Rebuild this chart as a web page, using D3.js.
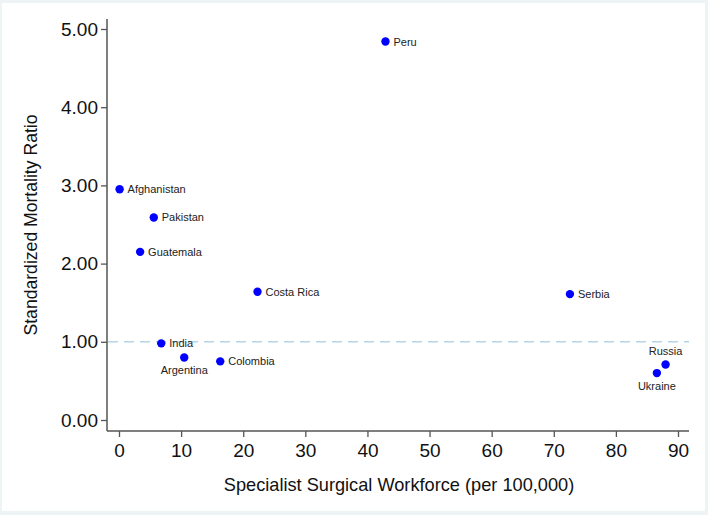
<!DOCTYPE html>
<html><head><meta charset="utf-8">
<script src="https://cdn.jsdelivr.net/npm/d3@7"></script>
<style>html,body{margin:0;padding:0;background:#eef4f6;}svg{display:block;}</style>
</head><body><svg id="c" width="708" height="515"></svg>
<script>
const countries = ["Peru","Afghanistan","Pakistan","Guatemala","Costa Rica","India","Argentina","Colombia","Serbia","Russia","Ukraine"];
const workforce = [42.9, 0.1, 5.6, 3.4, 22.3, 6.8, 10.5, 16.3, 72.6, 88.0, 86.6];
const smr = [4.84, 2.95, 2.59, 2.15, 1.64, 0.98, 0.80, 0.75, 1.61, 0.71, 0.60];
const labelPos = ["right","right","right","right","right","right","below","right","right","above","below"];
const xTicks = [0,10,20,30,40,50,60,70,80,90];
const yTicks = [0,1,2,3,4,5];
const refLine = 1;

const FONT = "Arial, 'Liberation Sans', sans-serif";
const svg = d3.select("#c");
svg.append("rect").attr("x",2).attr("y",3).attr("width",703).attr("height",508).attr("fill","#fff");

const x = d3.scaleLinear().domain([0,90]).range([119,678]);
const y = d3.scaleLinear().domain([0,5]).range([420,29]);
const axisColor = "#555";

// reference line
svg.append("line").attr("x1",108).attr("x2",689).attr("y1",y(refLine)).attr("y2",y(refLine))
  .attr("stroke","#b3d6e2").attr("stroke-width",1.5).attr("stroke-dasharray","10,6");

// Y axis
const yAx = svg.append("g").attr("transform","translate(107,0)")
  .call(d3.axisLeft(y).tickValues(yTicks).tickFormat(d3.format(".2f")).tickSizeOuter(0).tickSize(6).tickPadding(3));
yAx.select(".domain").remove();
svg.append("line").attr("x1",107).attr("x2",107).attr("y1",19).attr("y2",431).attr("stroke",axisColor).attr("stroke-width",1.5);
yAx.selectAll(".tick line").attr("stroke",axisColor).attr("stroke-width",1.3);
yAx.selectAll(".tick text").attr("fill","#111").style("font-family",FONT).style("font-size","19px");

// X axis
const xAx = svg.append("g").attr("transform","translate(0,431)")
  .call(d3.axisBottom(x).tickValues(xTicks).tickSizeOuter(0).tickSize(6).tickPadding(7));
xAx.select(".domain").remove();
svg.append("line").attr("x1",107).attr("x2",689).attr("y1",431).attr("y2",431).attr("stroke",axisColor).attr("stroke-width",1.5);
xAx.selectAll(".tick line").attr("stroke",axisColor).attr("stroke-width",1.3);
xAx.selectAll(".tick text").attr("fill","#111").style("font-family",FONT).style("font-size","19px");

// axis titles
svg.append("text").attr("x",399).attr("y",491).attr("text-anchor","middle")
  .style("font-family",FONT).style("font-size","18.2px").attr("fill","#111")
  .text("Specialist Surgical Workforce (per 100,000)");
svg.append("text").attr("transform","translate(37,225) rotate(-90)").attr("text-anchor","middle")
  .style("font-family",FONT).style("font-size","17.6px").attr("fill","#111")
  .text("Standardized Mortality Ratio");

// points
const data = countries.map((c,i)=>({c, x:workforce[i], y:smr[i], pos:labelPos[i]}));
svg.append("g").selectAll("circle").data(data).join("circle")
  .attr("cx",d=>x(d.x)).attr("cy",d=>y(d.y)).attr("r",4.2).attr("fill","#0000ff");

svg.append("g").selectAll("text").data(data).join("text")
  .attr("x",d=>d.pos==="right"? x(d.x)+8 : x(d.x))
  .attr("y",d=>d.pos==="right"? y(d.y)+4 : d.pos==="below" ? y(d.y)+17 : y(d.y)-9)
  .attr("text-anchor",d=>d.pos==="right"?"start":"middle")
  .style("font-family",FONT).style("font-size","11px").attr("fill","#222")
  .text(d=>d.c);
</script></body></html>
